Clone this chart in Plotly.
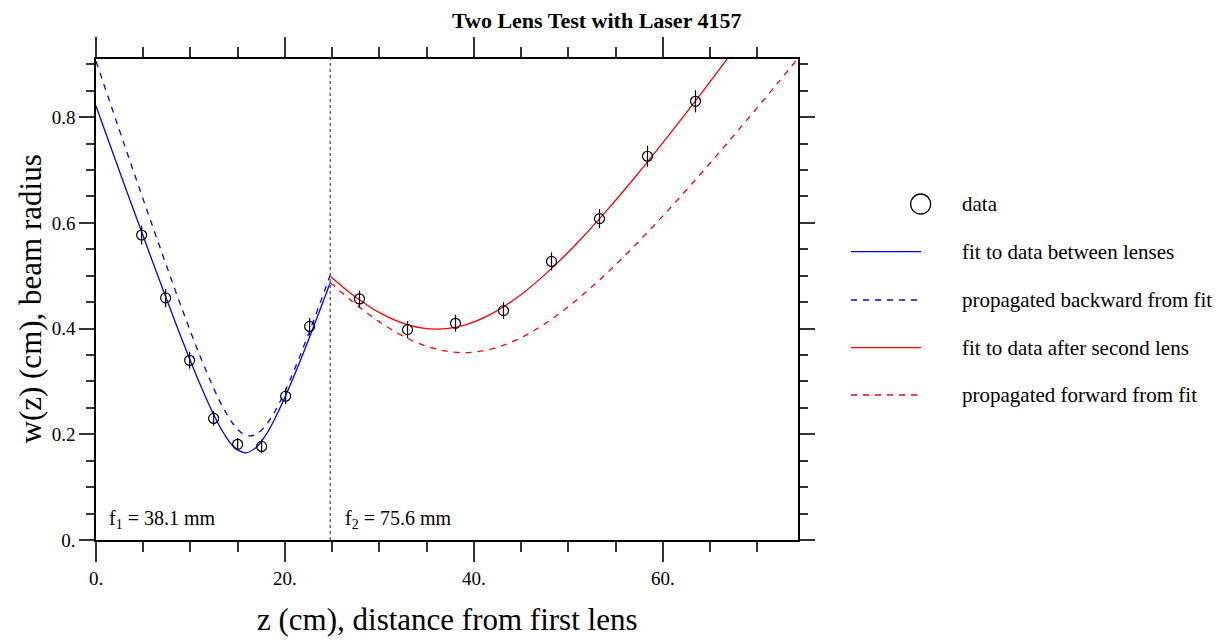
import plotly.graph_objects as go

# ---------------- data ----------------
z_between = [4.83, 7.37, 9.91, 12.45, 14.99, 17.53, 20.07, 22.61]
w_between = [0.577, 0.458, 0.340, 0.230, 0.181, 0.177, 0.272, 0.404]
err_between = [0.018, 0.017, 0.016, 0.014, 0.012, 0.013, 0.015, 0.016]

z_after = [27.89, 32.97, 38.05, 43.13, 48.21, 53.29, 58.37, 63.45]
w_after = [0.456, 0.398, 0.410, 0.434, 0.527, 0.608, 0.726, 0.830]
err_after = [0.016, 0.016, 0.016, 0.016, 0.017, 0.018, 0.020, 0.021]

# fit between lenses (solid blue)
fit1_z = [0, 3, 6, 9, 11, 12.5, 13.5, 14.5, 15.8, 17, 18, 19, 20.5, 22.5, 24.8]
fit1_w = [0.821, 0.672, 0.526, 0.384, 0.295, 0.2355, 0.2024, 0.1778, 0.165,
          0.176, 0.1995, 0.2319, 0.2907, 0.379, 0.487]

# propagated backward from second fit (dashed blue)
back_z = [0, 3, 6, 9, 11, 12.5, 13.5, 14.5, 15.4, 16.3, 17.2, 18.2, 19.2, 20.5, 22.5, 24.8]
back_w = [0.906, 0.748, 0.593, 0.4424, 0.3486, 0.2852, 0.2488, 0.2199, 0.203, 0.197,
          0.203, 0.2224, 0.2521, 0.3013, 0.390, 0.5016]

# fit after second lens (solid red)
fit2_z = [24.8, 27, 30, 33, 36.05, 39, 42, 45, 48, 51, 54, 57, 60, 63, 66, 67]
fit2_w = [0.4988, 0.466, 0.4302, 0.4072, 0.399, 0.4067, 0.4292, 0.4646, 0.5101,
          0.5633, 0.6222, 0.6854, 0.7517, 0.8204, 0.891, 0.9149]

# propagated forward from first fit (dashed red)
fwd_z = [24.8, 27, 30, 33, 36, 38.9, 42, 45, 48, 51, 54, 57, 60, 63, 66, 69, 72, 74.3]
fwd_w = [0.4873, 0.4531, 0.4126, 0.3812, 0.3611, 0.3545, 0.362, 0.3829, 0.415, 0.4561,
         0.5039, 0.5567, 0.6132, 0.6725, 0.7339, 0.7969, 0.8612, 0.9112]

lens2_z = 24.8
x_tick_vals = [0, 20, 40, 60]
x_tick_text = ["0.", "20.", "40.", "60."]
y_tick_vals = [0, 0.2, 0.4, 0.6, 0.8]
y_tick_text = ["0.", "0.2", "0.4", "0.6", "0.8"]

legend_labels = ["data", "fit to data between lenses", "propagated backward from fit",
                 "fit to data after second lens", "propagated forward from fit"]

FONT = "Liberation Serif, Times New Roman, serif"
BLUE = "#0000ff"
RED = "#ff0000"

fig = go.Figure()

fig.add_trace(go.Scatter(x=back_z, y=back_w, mode="lines", line_shape="spline",
                         line=dict(color=BLUE, width=1.3, dash="6px,6px"), showlegend=False))
fig.add_trace(go.Scatter(x=fit1_z, y=fit1_w, mode="lines", line_shape="spline",
                         line=dict(color=BLUE, width=1.3), showlegend=False))
fig.add_trace(go.Scatter(x=fwd_z, y=fwd_w, mode="lines", line_shape="spline",
                         line=dict(color=RED, width=1.3, dash="6px,6px"), showlegend=False))
fig.add_trace(go.Scatter(x=fit2_z, y=fit2_w, mode="lines", line_shape="spline",
                         line=dict(color=RED, width=1.3), showlegend=False))

for zs, ws, es in [(z_between, w_between, err_between), (z_after, w_after, err_after)]:
    fig.add_trace(go.Scatter(
        x=zs, y=ws, mode="markers",
        marker=dict(symbol="circle-open", size=10, color="black", line=dict(width=1.2)),
        error_y=dict(type="data", array=es, visible=True, color="black", thickness=1.2, width=0),
        showlegend=False))

axis_common = dict(showline=True, linecolor="black", linewidth=1.5, mirror="ticks",
                   showgrid=False, zeroline=False, ticks="outside", tickcolor="#333",
                   tickwidth=1.5, tickmode="array", automargin=False,
                   tickfont=dict(family=FONT, size=19, color="black"))

fig.update_xaxes(range=[0, 74.3], tickvals=x_tick_vals, ticktext=x_tick_text, ticklen=20,
                 minor=dict(tickmode="linear", tick0=0, dtick=5, ticks="outside", ticklen=10,
                            tickcolor="#333", tickwidth=1.5),
                 **axis_common)
fig.update_yaxes(range=[0, 0.91], tickvals=y_tick_vals, ticktext=y_tick_text, ticklen=15,
                 minor=dict(tickmode="linear", tick0=0, dtick=0.05, ticks="outside", ticklen=8,
                            tickcolor="#333", tickwidth=1.5),
                 **axis_common)

shapes = [dict(type="line", xref="x", yref="paper", x0=lens2_z, x1=lens2_z, y0=0, y1=1,
               line=dict(color="#666", width=1.5, dash="dot"))]
annotations = [
    dict(text="<b>Two Lens Test with Laser 4157</b>", xref="paper", yref="paper",
         x=0.7137, y=1, yshift=39, xanchor="center", yanchor="middle", showarrow=False,
         font=dict(family=FONT, size=22, color="black")),
    dict(text="z (cm), distance from first lens", xref="paper", yref="paper",
         x=0.5, y=0, yshift=-79, xanchor="center", yanchor="middle", showarrow=False,
         font=dict(family=FONT, size=31, color="black")),
    dict(text="w(z) (cm), beam radius", xref="paper", yref="paper", textangle=-90,
         x=0, y=0.5, xshift=-66, xanchor="center", yanchor="middle", showarrow=False,
         font=dict(family=FONT, size=31, color="black")),
    dict(text="f<sub>1</sub> = 38.1 mm", xref="x", yref="y", x=1.2, y=0.038,
         xanchor="left", yanchor="middle", showarrow=False,
         font=dict(family=FONT, size=20, color="black")),
    dict(text="f<sub>2</sub> = 75.6 mm", xref="x", yref="y", x=26.1, y=0.038,
         xanchor="left", yanchor="middle", showarrow=False,
         font=dict(family=FONT, size=20, color="black")),
]

# manual legend (paper coordinates relative to plot area)
row_y = [0.6985, 0.5994, 0.499, 0.3998, 0.3015]
line_styles = [None, dict(color=BLUE, width=1.3), dict(color=BLUE, width=1.3, dash="6px,6px"),
               dict(color=RED, width=1.3), dict(color=RED, width=1.3, dash="6px,6px")]
for lbl, yy, st in zip(legend_labels, row_y, line_styles):
    if st is None:
        shapes.append(dict(type="circle", xref="paper", yref="paper", xsizemode="pixel",
                           ysizemode="pixel", xanchor=1.1747, yanchor=yy,
                           x0=-10, x1=10, y0=-10, y1=10, line=dict(color="black", width=1.3)))
    else:
        shapes.append(dict(type="line", xref="paper", yref="paper", x0=1.0755, x1=1.1752,
                           y0=yy, y1=yy, line=st))
    annotations.append(dict(text=lbl, xref="paper", yref="paper", x=1.2308, y=yy,
                            xanchor="left", yanchor="middle", showarrow=False,
                            font=dict(family=FONT, size=21, color="black")))

# the page body adds an 8px offset, so the figure is 8px smaller with shifted margins
fig.update_layout(width=1215, height=632, margin=dict(l=88, r=425, t=51, b=100),
                  plot_bgcolor="white", paper_bgcolor="white",
                  shapes=shapes, annotations=annotations, showlegend=False,
                  font=dict(family=FONT, color="black"))

fig.write_html("out.html")
